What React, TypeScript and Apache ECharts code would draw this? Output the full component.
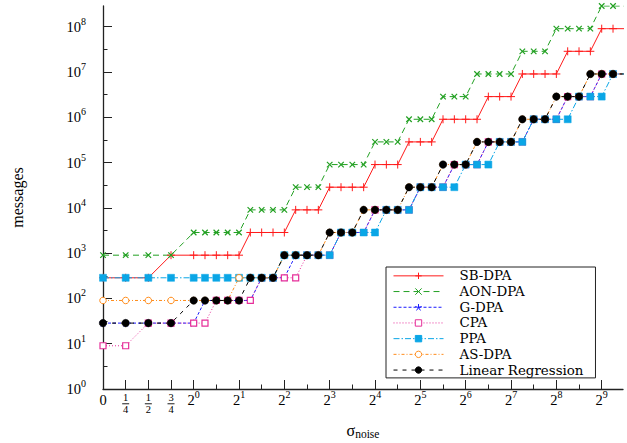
import React, { useEffect, useRef } from 'react';
import * as echarts from 'echarts';

const FONT = '"Liberation Serif", "DejaVu Serif", serif';
const LEGEND_FONT = '"DejaVu Serif", "Liberation Serif", serif';

// sigma_noise sample points (x values)
const sigmaValues = [
  0, 0.25, 0.5, 0.75, 1, 1.189, 1.414, 1.682, 2, 2.378, 2.828, 3.364, 4,
  4.757, 5.657, 6.727, 8, 9.514, 11.31, 13.45, 16, 19.03, 22.63, 26.91, 32,
  38.05, 45.25, 53.82, 64, 76.11, 90.51, 107.6, 128, 152.2, 181.0, 215.3, 256,
  304.4, 362.0, 430.5, 512, 608.9, 724.1,
];

const sbDpa = [
  285, 285, 285, 900, 900, 900, 900, 900, 900, 2850, 2850, 2850, 2850,
  9e3, 9e3, 9e3, 2.85e4, 2.85e4, 2.85e4, 2.85e4, 9e4, 9e4, 9e4, 2.85e5, 2.85e5, 2.85e5,
  9e5, 9e5, 9e5, 9e5, 2.85e6, 2.85e6, 2.85e6, 9e6, 9e6, 9e6, 9e6, 2.85e7, 2.85e7, 2.85e7,
  9e7, 9e7, 9e7,
];
const aonDpa = [
  900, 900, 900, 900, 2850, 2850, 2850, 2850, 2850, 9e3, 9e3, 9e3, 9e3,
  2.85e4, 2.85e4, 2.85e4, 9e4, 9e4, 9e4, 9e4, 2.85e5, 2.85e5, 2.85e5, 9e5, 9e5, 9e5,
  2.85e6, 2.85e6, 2.85e6, 9e6, 9e6, 9e6, 9e6, 2.85e7, 2.85e7, 2.85e7, 9e7, 9e7, 9e7, 9e7,
  2.85e8, 2.85e8, 2.85e8,
];
const gDpa = [
  28.5, 28.5, 28.5, 28.5, 28.5, 90, 90, 90, 90, 90, 285, 285, 285,
  900, 900, 900, 900, 2850, 2850, 2850, 9e3, 9e3, 9e3, 9e3, 2.85e4, 2.85e4, 2.85e4,
  9e4, 9e4, 9e4, 2.85e5, 2.85e5, 2.85e5, 2.85e5, 9e5, 9e5, 9e5, 2.85e6, 2.85e6, 2.85e6,
  9e6, 9e6, 9e6,
];
const cpa = [
  9, 9, 28.5, 28.5, 28.5, 28.5, 90, 90, 90, 90, 285, 285, 285,
  285, 900, 900, 900, 2850, 2850, 2850, 9e3, 9e3, 9e3, 9e3, 2.85e4, 2.85e4, 2.85e4,
  9e4, 9e4, 9e4, 2.85e5, 2.85e5, 2.85e5, 2.85e5, 9e5, 9e5, 9e5, 2.85e6, 2.85e6, 2.85e6,
  9e6, 9e6, 9e6,
];
const ppa = [
  285, 285, 285, 285, 285, 285, 285, 285, 285, 285, 285, 285, 900,
  900, 900, 900, 900, 2850, 2850, 2850, 2850, 9e3, 9e3, 9e3, 2.85e4, 2.85e4, 2.85e4,
  2.85e4, 9e4, 9e4, 9e4, 2.85e5, 2.85e5, 2.85e5, 9e5, 9e5, 9e5, 9e5, 2.85e6, 2.85e6,
  2.85e6, 9e6, 9e6,
];
const asDpa = [
  90, 90, 90, 90, 90, 90, 90, 90, 285, 285, 285, 285, 900,
  900, 900, 900, 2850, 2850, 2850, 9e3, 9e3, 9e3, 9e3, 2.85e4, 2.85e4, 2.85e4,
  9e4, 9e4, 9e4, 2.85e5, 2.85e5, 2.85e5, 2.85e5, 9e5, 9e5, 9e5, 2.85e6, 2.85e6, 2.85e6,
  9e6, 9e6, 9e6, 9e6,
];
const linReg = [
  28.5, 28.5, 28.5, 28.5, 90, 90, 90, 90, 90, 285, 285, 285, 900,
  900, 900, 900, 2850, 2850, 2850, 9e3, 9e3, 9e3, 9e3, 2.85e4, 2.85e4, 2.85e4,
  9e4, 9e4, 9e4, 2.85e5, 2.85e5, 2.85e5, 2.85e5, 9e5, 9e5, 9e5, 2.85e6, 2.85e6, 2.85e6,
  9e6, 9e6, 9e6, 9e6,
];

const seriesNames = ['SB-DPA', 'AON-DPA', 'G-DPA', 'CPA', 'PPA', 'AS-DPA', 'Linear Regression'];

// axis ticks in axis units (0..1 linear mapped to 0..2, then log2(sigma)+2)
const xMajorTicks = [0, 0.5, 1, 1.5, 2, 3, 4, 5, 6, 7, 8, 9, 10, 11];
const xTickLabels = ['0', '1/4', '1/2', '3/4', '2^0', '2^1', '2^2', '2^3', '2^4', '2^5', '2^6', '2^7', '2^8', '2^9'];
const xMinorTicks = [2.5, 3.5, 4.5, 5.5, 6.5, 7.5, 8.5, 9.5, 10.5];
const yMajorTicks = [0, 1, 2, 3, 4, 5, 6, 7, 8];
const yMinorTicks = [0.5, 1.5, 2.5, 3.5, 4.5, 5.5, 6.5, 7.5];
const X_MAX = 11.47;
const Y_MIN = 1;
const Y_MAX = 2.85e8;

const toAxisX = (s: number) => (s <= 1 ? 2 * s : 2 + Math.log2(s));

const App: React.FC = () => {
  const ref = useRef<HTMLDivElement>(null);

  useEffect(() => {
    if (!ref.current) return;
    const chart = echarts.init(ref.current, undefined, { renderer: 'svg' });

    const pts = (vals: number[]) => sigmaValues.map((s, i) => [toAxisX(s), vals[i]]);

    const base = {
      type: 'line' as const,
      xAxisIndex: 0,
      yAxisIndex: 0,
      showSymbol: true,
      clip: true,
      emphasis: { disabled: true },
      silent: true,
    };

    const xLabelFmt = (v: number) => {
      const idx = xMajorTicks.findIndex((t) => Math.abs(t - v) < 1e-6);
      if (idx < 0) return '';
      const lab = xTickLabels[idx];
      if (lab.includes('/')) {
        const [n, d] = lab.split('/');
        return `{n|${n}}\n{bar| }\n{d|${d}}`;
      }
      if (lab.includes('^')) {
        const [b, e] = lab.split('^');
        return `{b|${b}}{sup|${e}}`;
      }
      return `{b|${lab}}`;
    };

    const yLabelFmt = (v: number) => {
      const e = Math.log10(v);
      if (Math.abs(e - Math.round(e)) > 1e-6) return '';
      return `{b|10}{sup|${Math.round(e)}}`;
    };

    const supRich = {
      b: { fontFamily: FONT, fontSize: 14.5, lineHeight: 18, verticalAlign: 'bottom', color: '#000' },
      sup: { fontFamily: FONT, fontSize: 10, lineHeight: 10, verticalAlign: 'top', color: '#000' },
    };

    const option: any = {
      animation: false,
      backgroundColor: '#fff',
      grid: { left: 103, right: 4, top: 6, bottom: 54, containLabel: false, outerBoundsMode: 'none' },
      legend: {
        data: seriesNames,
        orient: 'vertical',
        left: 386,
        top: 267,
        itemWidth: 50,
        itemHeight: 8,
        itemGap: 0,
        padding: [1, 12, 0, 7],
        borderColor: '#222',
        borderWidth: 1,
        backgroundColor: '#fff',
        textStyle: { fontFamily: LEGEND_FONT, fontSize: 13.4, color: '#000', lineHeight: 15.7, padding: [0, 0, 0, 11] },
        itemStyle: { borderWidth: 1 },
        lineStyle: { width: 1 },
        selectedMode: false,
      },
      xAxis: [
        {
          type: 'value',
          min: 0,
          max: X_MAX,
          position: 'bottom',
          name: '{g|σ}{s|noise}',
          nameLocation: 'middle',
          nameGap: 33,
          nameTextStyle: {
            fontFamily: FONT,
            color: '#000',
            rich: {
              g: { fontFamily: FONT, fontSize: 16, verticalAlign: 'top', lineHeight: 18 },
              s: { fontFamily: FONT, fontSize: 11.5, verticalAlign: 'bottom', lineHeight: 11 },
            },
          },
          axisLine: { show: true, onZero: false, lineStyle: { color: '#222', width: 1.3 } },
          axisTick: { show: true, inside: true, length: 9, customValues: xMajorTicks, lineStyle: { color: '#222', width: 1 } },
          splitLine: { show: false },
          axisLabel: {
            customValues: xMajorTicks,
            margin: 0.5,
            formatter: xLabelFmt,
            color: '#000',
            fontFamily: FONT,
            rich: {
              ...supRich,
              n: { fontFamily: FONT, fontSize: 10.5, lineHeight: 13.8, verticalAlign: 'bottom', color: '#000' },
              bar: { width: 7, height: 0.9, lineHeight: 1, fontSize: 1, backgroundColor: '#000' },
              d: { fontFamily: FONT, fontSize: 10.5, lineHeight: 10, color: '#000' },
            },
          },
        },
        {
          type: 'value',
          min: 0,
          max: X_MAX,
          position: 'bottom',
          axisLine: { show: false },
          axisTick: { show: true, inside: true, length: 4.5, customValues: xMinorTicks, lineStyle: { color: '#222', width: 1 } },
          axisLabel: { show: false },
          splitLine: { show: false },
        },
      ],
      yAxis: [
        {
          type: 'log',
          logBase: 10,
          min: Y_MIN,
          max: Y_MAX,
          position: 'left',
          name: 'messages',
          nameLocation: 'middle',
          nameGap: 78,
          nameRotate: 90,
          nameTextStyle: { fontFamily: FONT, fontSize: 16, color: '#000' },
          axisLine: { show: true, onZero: false, lineStyle: { color: '#222', width: 1.3 } },
          axisTick: { show: false },
          splitLine: { show: false },
          minorTick: { show: false },
          axisLabel: {
            margin: 17,
            formatter: yLabelFmt,
            showMaxLabel: false,
            padding: [0, 0, 3, 0],
            color: '#000',
            fontFamily: FONT,
            rich: supRich,
          },
        },
        {
          type: 'value',
          min: 0,
          max: Math.log10(Y_MAX),
          position: 'left',
          axisLine: { show: false },
          axisTick: { show: true, inside: true, length: 9, customValues: yMajorTicks, lineStyle: { color: '#222', width: 1 } },
          axisLabel: { show: false },
          splitLine: { show: false },
        },
        {
          type: 'value',
          min: 0,
          max: Math.log10(Y_MAX),
          position: 'left',
          axisLine: { show: false },
          axisTick: { show: true, inside: true, length: 4.5, customValues: yMinorTicks, lineStyle: { color: '#222', width: 1 } },
          axisLabel: { show: false },
          splitLine: { show: false },
        },
      ],
      series: [
        {
          ...base,
          name: seriesNames[0],
          data: pts(sbDpa),
          symbol: 'path://M0,-1L0,1M-1,0L1,0',
          symbolSize: 8,
          lineStyle: { color: '#ff1a1a', width: 1, type: 'solid' },
          itemStyle: { color: '#ff1a1a', borderColor: '#ff1a1a', borderWidth: 1 },
        },
        {
          ...base,
          name: seriesNames[1],
          data: pts(aonDpa),
          symbol: 'path://M-1,-1L1,1M-1,1L1,-1',
          symbolSize: 5.5,
          lineStyle: { color: '#22a022', width: 1, type: [6, 4] },
          itemStyle: { color: '#22a022', borderColor: '#22a022', borderWidth: 1.2 },
        },
        {
          ...base,
          name: seriesNames[2],
          data: pts(gDpa),
          symbol: 'path://M0,0L0,-1M0,0L-0.951,-0.309M0,0L-0.588,0.809M0,0L0.588,0.809M0,0L0.951,-0.309',
          symbolKeepAspect: true,
          symbolSize: 7,
          lineStyle: { color: '#1a1aff', width: 1, type: [3, 2] },
          itemStyle: { color: '#1a1aff', borderColor: '#1a1aff', borderWidth: 1 },
        },
        {
          ...base,
          name: seriesNames[3],
          data: pts(cpa),
          symbol: 'rect',
          symbolSize: 6,
          lineStyle: { color: '#e62e99', width: 1, type: [1, 2] },
          itemStyle: { color: '#ffffff', borderColor: '#e62e99', borderWidth: 1.2 },
        },
        {
          ...base,
          name: seriesNames[4],
          data: pts(ppa),
          symbol: 'rect',
          symbolSize: 7,
          lineStyle: { color: '#0aa6e6', width: 1, type: [6, 2, 1.5, 2] },
          itemStyle: { color: '#0aa6e6', borderColor: '#0aa6e6', borderWidth: 0.5 },
        },
        {
          ...base,
          name: seriesNames[5],
          data: pts(asDpa),
          symbol: 'circle',
          symbolSize: 6.5,
          lineStyle: { color: '#ff8c1a', width: 1, type: [3, 2, 1, 2] },
          itemStyle: { color: '#ffffff', borderColor: '#ff8c1a', borderWidth: 1 },
        },
        {
          ...base,
          name: seriesNames[6],
          data: pts(linReg),
          symbol: 'circle',
          symbolSize: 7.5,
          lineStyle: { color: '#000000', width: 1, type: [4, 5] },
          itemStyle: { color: '#000000', borderColor: '#000000', borderWidth: 0.5 },
        },
      ],
    };

    chart.setOption(option);
    return () => chart.dispose();
  }, []);

  return (
    <div
      ref={ref}
      style={{ position: 'fixed', left: 0, top: 0, width: 627, height: 443, background: '#fff' }}
    />
  );
};

export default App;
